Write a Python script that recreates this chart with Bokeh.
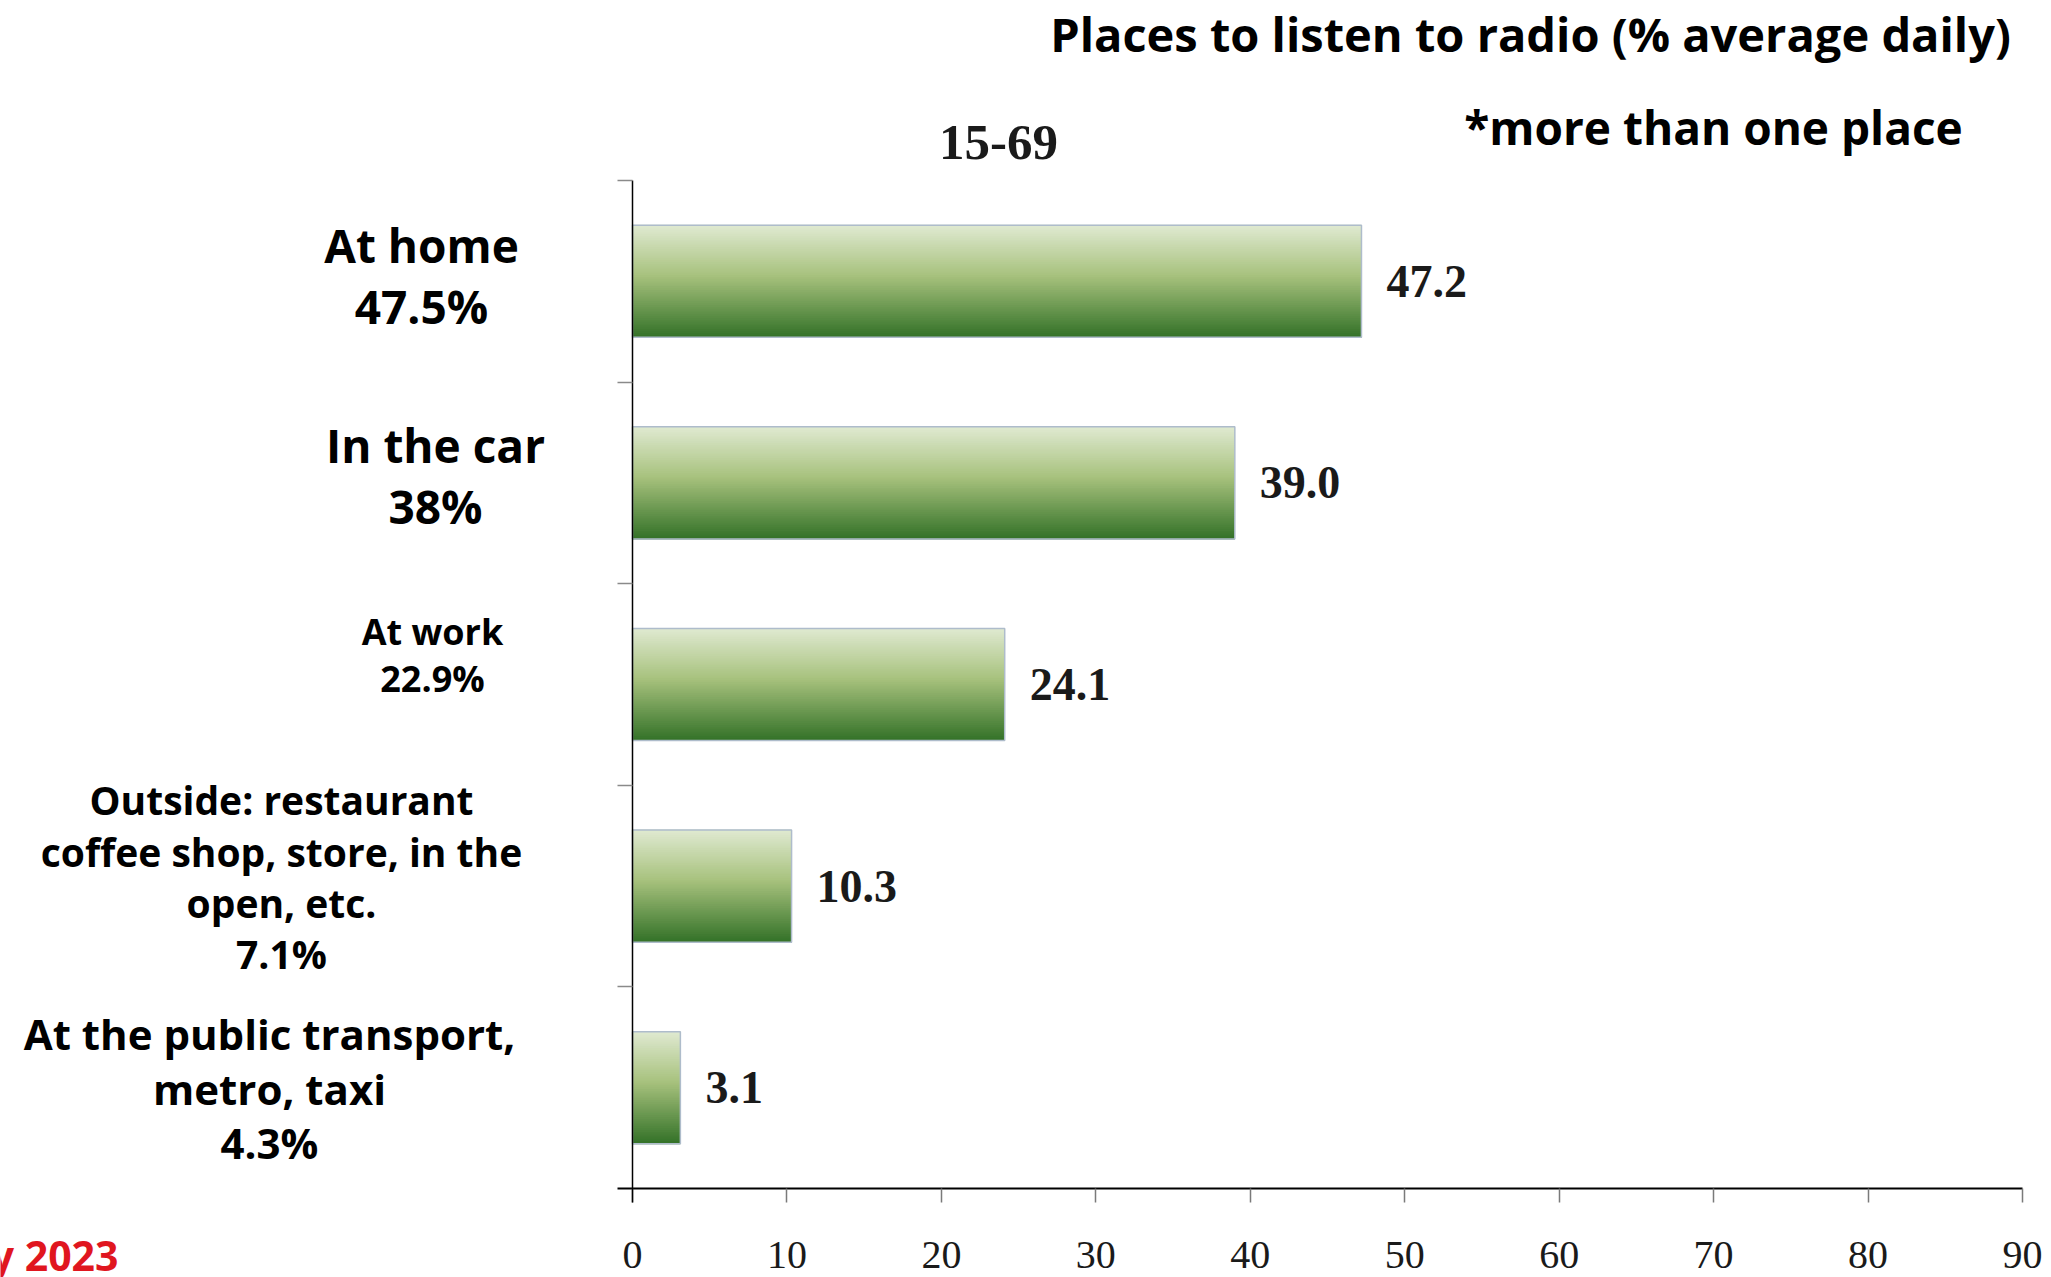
from bokeh.plotting import figure
from bokeh.models import Range1d, FixedTicker, Label
from bokeh.core.properties import value
from bokeh.embed import file_html
from bokeh.resources import INLINE

# ---------------- data ----------------
places = ["At home", "In the car", "At work",
          "Outside: restaurant coffee shop, store, in the open, etc.",
          "At the public transport, metro, taxi"]
values = [47.2, 39.0, 24.1, 10.3, 3.1]
shares = ["47.5%", "38%", "22.9%", "7.1%", "4.3%"]
label_lines = [["At home", "47.5%"],
               ["In the car", "38%"],
               ["At work", "22.9%"],
               ["Outside: restaurant", "coffee shop, store, in the", "open, etc.", "7.1%"],
               ["At the public transport,", "metro, taxi", "4.3%"]]
x_ticks = [0, 10, 20, 30, 40, 50, 60, 70, 80, 90]
title_text = "Places to listen to radio (% average daily)"
note_text = "*more than one place"
age_group = "15-69"
footer_text = "January 2023"

# ---------------- layout / style ----------------
W, H = 2051, 1277
AX_L, AX_R, AX_T, AX_B = 632, 2022, 180, 1188   # pixel box of the axes
X0, X1 = 0, 90
Y0, Y1 = -0.5, len(values) - 0.5
BAR_H = 0.556
LBL_SHIFT = -18   # pixel correction for Label baselines

def px2x(px):
    return X0 + (px - AX_L) / (AX_R - AX_L) * (X1 - X0)

def py2y(py):
    return Y1 - (py - AX_T) / (AX_B - AX_T) * (Y1 - Y0)

def lbl_y(py):
    return py2y(py + LBL_SHIFT)

p = figure(width=W, height=H, output_backend="svg", toolbar_location=None,
           x_range=Range1d(px2x(0), px2x(W)), y_range=Range1d(py2y(H), py2y(0)),
           min_border_left=0, min_border_right=0, min_border_top=0, min_border_bottom=0)
p.outline_line_color = None
p.xgrid.visible = False
p.ygrid.visible = False
p.background_fill_color = "white"
p.border_fill_color = "white"

ypos = [len(values) - 1 - i for i in range(len(values))]

# gradient bars made of thin horizontal slices
N = 60
stops = [(0.0, (224, 234, 210)), (0.45, (168, 194, 126)), (1.0, (52, 114, 40))]
def grad(t):
    for (t0, c0), (t1, c1) in zip(stops[:-1], stops[1:]):
        if t <= t1:
            f = (t - t0) / (t1 - t0)
            return "#%02x%02x%02x" % tuple(int(round(a + (b - a) * f)) for a, b in zip(c0, c1))
    return "#%02x%02x%02x" % stops[-1][1]

sy, sr, sc = [], [], []
for v, yc in zip(values, ypos):
    for k in range(N):
        t = (k + 0.5) / N
        sy.append(yc + BAR_H / 2 - t * BAR_H)
        sr.append(v)
        sc.append(grad(t))
seg_h = BAR_H / N * 1.6
p.hbar(y=sy, left=0, right=sr, height=seg_h, fill_color=sc, line_color=None)
p.hbar(y=ypos, left=0, right=values, height=BAR_H, fill_color=None,
       line_color="#aebccb", line_width=1.5)

# value labels
p.text(x=values, y=ypos, text=[f"{v:.1f}" for v in values], x_offset=25,
       text_baseline="middle", text_align="left",
       text_font=value("Liberation Serif"), text_font_style="bold",
       text_font_size="46px", text_color="#1a1a1a")

# axes (drawn at fixed data locations inside the full-canvas frame)
xa = p.xaxis[0]
xa.fixed_location = Y0
xa.bounds = (px2x(617), X1)
xa.ticker = FixedTicker(ticks=x_ticks)
xa.axis_line_color = "black"
xa.axis_line_width = 2
xa.major_tick_out = 14
xa.major_tick_in = 0
xa.major_tick_line_color = "#7a7a7a"
xa.major_tick_line_width = 1.5
xa.minor_tick_line_color = None
xa.major_label_text_font = "Liberation Serif"
xa.major_label_text_font_size = "40px"
xa.major_label_text_color = "#1a1a1a"
xa.major_label_standoff = 39

ya = p.yaxis[0]
ya.fixed_location = X0
ya.bounds = (py2y(1202), Y1)
ya.ticker = FixedTicker(ticks=[], minor_ticks=[Y0 + i for i in range(1, len(values) + 1)])
ya.axis_line_color = "black"
ya.axis_line_width = 1.5
ya.major_tick_line_color = None
ya.minor_tick_out = 15
ya.minor_tick_in = 0
ya.minor_tick_line_color = "#8a8a8a"
ya.minor_tick_line_width = 1.5

# category labels (left side)
cat_sizes = [46, 46, 36, 39, 42]
cat_cx = [421, 435, 432, 281, 269]
cat_base = [[262, 323], [462, 523], [649, 696], [817, 869, 920, 971], [1051, 1106, 1160]]
for lines, fs, cx, bases in zip(label_lines, cat_sizes, cat_cx, cat_base):
    for line, b in zip(lines, bases):
        p.add_layout(Label(x=px2x(cx), y=lbl_y(b), text=line, text_align="center",
                           text_baseline="alphabetic", text_font="Open Sans",
                           text_font_style="bold", text_font_size=f"{fs}px",
                           text_color="black"))

# titles
p.add_layout(Label(x=px2x(1530), y=lbl_y(51), text=title_text, text_align="center",
                   text_baseline="alphabetic", text_font="Open Sans", text_font_style="bold",
                   text_font_size="47px", text_color="black"))
p.add_layout(Label(x=px2x(1713), y=lbl_y(144), text=note_text, text_align="center",
                   text_baseline="alphabetic", text_font="Open Sans", text_font_style="bold",
                   text_font_size="46px", text_color="black"))
p.add_layout(Label(x=px2x(998), y=lbl_y(160), text=age_group, text_align="center",
                   text_baseline="alphabetic", text_font="Liberation Serif",
                   text_font_style="bold", text_font_size="51px", text_color="#1a1a1a"))
p.add_layout(Label(x=px2x(118), y=lbl_y(1272), text=footer_text, text_align="right",
                   text_baseline="alphabetic", text_font="Open Sans", text_font_style="bold",
                   text_font_size="41px", text_color="#e0161f"))

open("out.html", "w").write(file_html(p, INLINE))
